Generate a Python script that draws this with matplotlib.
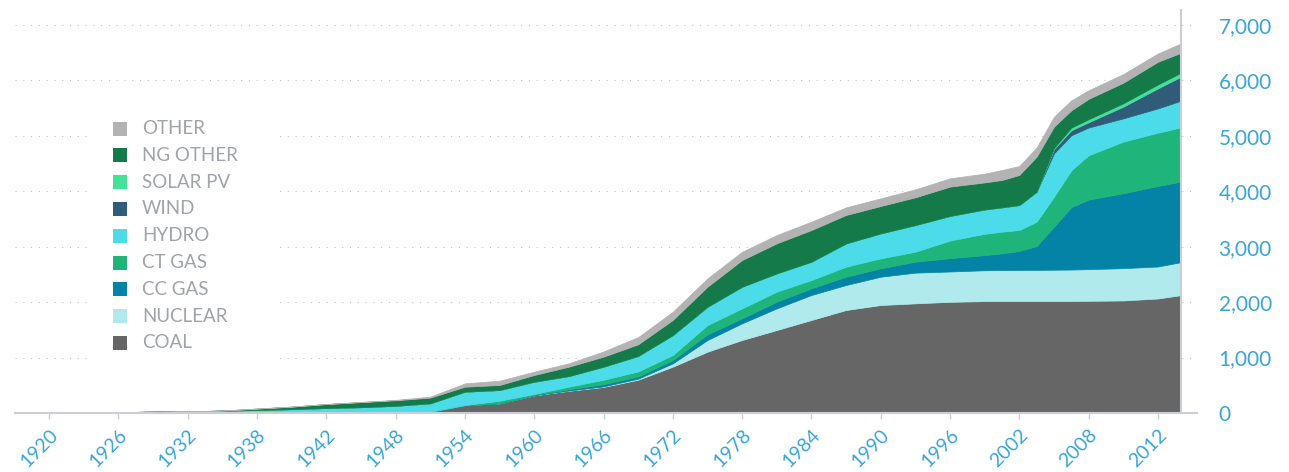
import numpy as np
import matplotlib.pyplot as plt
from matplotlib.patches import Rectangle

plt.rcParams['font.family'] = ['Lato', 'DejaVu Sans']

# category position of each data row (labels sit every 6 steps)
pos = [0, 3, 6, 9, 12, 15, 18, 21, 24, 27, 30, 33, 36, 39, 42, 45, 48, 51, 54,
       57, 60, 63, 66, 69, 72, 75, 78, 81, 84, 85.5, 87, 88.5, 90, 91.5, 93,
       96, 99, 101]

coal = [0] * 12 + [25, 144, 174, 320, 400, 470, 600, 836, 1106, 1317, 1497,
                   1678, 1858, 1948, 1978, 2006, 2018,
                   2020, 2022, 2022, 2022, 2022, 2024, 2030, 2066, 2126]
nuclear = [0] * 12 + [0, 0, 0, 0, 5, 10, 20, 60, 211, 301, 391, 451, 451, 511,
                      554, 547, 557,
                      558, 558, 560, 563, 566, 571, 583, 577, 595]
cc_gas = [0] * 12 + [0, 0, 0, 5, 22, 40, 40, 60, 102, 90, 120, 120, 150, 151,
                     198, 240, 273,
                     302, 342, 431, 775, 1126, 1255, 1351, 1453, 1453]
ct_gas = [0] * 12 + [0, 0, 48, 18, 48, 80, 90, 90, 168, 180, 181, 150, 181,
                     180, 180, 318, 385,
                     391, 379, 438, 542, 664, 800, 931, 961, 979]
hydro = [0, 3, 10, 17, 24, 32, 42, 55, 70, 90, 105, 130,
         150, 241, 193, 222, 192, 236, 280, 361, 331, 391, 331, 331, 421, 451,
         481, 445, 439,
         439, 451, 542, 782, 632, 500, 420, 438, 481]
wind = [0] * 32 + [76, 90, 95, 211, 361, 432]
solar = [0] * 32 + [20, 48, 55, 60, 70, 72]
ng_other = [0, 0, 0, 0, 0, 0, 2, 25, 45, 72, 92, 100,
            102, 90, 90, 121, 169, 180, 210, 271, 361, 481, 541, 571, 511, 493,
            500, 528, 488,
            493, 542, 631, 384, 312, 367, 372, 410, 360]
other = [0] * 10 + [2, 7,
                    18, 60, 78, 60, 60, 94, 130, 150, 150, 150, 150, 151, 138,
                    139, 144, 150, 158,
                    181, 162, 168, 180, 180, 156, 156, 150, 169]

series = [coal, nuclear, cc_gas, ct_gas, hydro, wind, solar, ng_other, other]
names = ['COAL', 'NUCLEAR', 'CC GAS', 'CT GAS', 'HYDRO', 'WIND', 'SOLAR PV',
         'NG OTHER', 'OTHER']
colors = ['#666666', '#b1eaed', '#0483a6', '#1fb57a', '#4cdbe9', '#2f5c78',
          '#45e09a', '#157a4a', '#b3b3b3']

year_labels = ['1920', '1926', '1932', '1938', '1942', '1948', '1954', '1960',
               '1966', '1972', '1978', '1984', '1990', '1996', '2002', '2008',
               '2012']
y_values = [0, 1000, 2000, 3000, 4000, 5000, 6000, 7000]
y_labels = ['0', '1,000', '2,000', '3,000', '4,000', '5,000', '6,000', '7,000']

W, H = 1289, 472
fig = plt.figure(figsize=(W / 100, H / 100), dpi=100)
ax = fig.add_axes([14.5 / W, 59 / H, (1181 - 14.5) / W, (413 - 10) / H])

polys = ax.stackplot(pos, *series, colors=colors, zorder=2)
for p, c in zip(polys, colors):
    p.set_edgecolor(c)
    p.set_linewidth(0.5)

ax.set_xlim(0, 101)
ax.set_ylim(0, 7270)

# dotted grid, running a little past the right axis
for v in y_values[1:]:
    ax.plot([0, 102.4], [v, v], color='#c4c4c4', lw=0.8, ls=(0, (1, 6)),
            clip_on=False, zorder=0)
ax.plot([0, 102.4], [0, 0], color='#cbced3', lw=1.5, clip_on=False, zorder=3)

for side in ['top', 'left', 'bottom']:
    ax.spines[side].set_visible(False)
ax.spines['right'].set_color('#cbced3')
ax.spines['right'].set_linewidth(1.5)
ax.spines['right'].set_zorder(3)

ax.set_xticks(np.arange(3, 100, 6))
ax.set_xticklabels(year_labels, rotation=45, ha='right', rotation_mode='anchor')
ax.tick_params(axis='x', direction='out', length=4.5, width=1, color='#cbced3',
               labelcolor='#3aa5d8', labelsize=14, pad=5)

ax.yaxis.tick_right()
ax.set_yticks(y_values)
ax.set_yticklabels(y_labels)
ax.tick_params(axis='y', length=0, labelcolor='#3aa5d8', labelsize=15, pad=27)

# legend drawn by hand, on a white card that hides the grid
fig.add_artist(Rectangle((90 / W, 1 - 362 / H), 187 / W, 250 / H,
                         transform=fig.transFigure, facecolor='white',
                         edgecolor='none', zorder=4))
for k, (name, c) in enumerate(zip(names, colors)):
    yc = 343 - 26.8 * k
    fig.add_artist(Rectangle((113 / W, 1 - (yc + 7) / H), 14 / W, 14 / H,
                             transform=fig.transFigure, facecolor=c,
                             edgecolor='none', zorder=5))
    fig.text(142 / W, 1 - yc / H, name, color='#a0a4a8', fontsize=13.5,
             va='center', ha='left', zorder=5)

fig.savefig('out.png', dpi=100)
